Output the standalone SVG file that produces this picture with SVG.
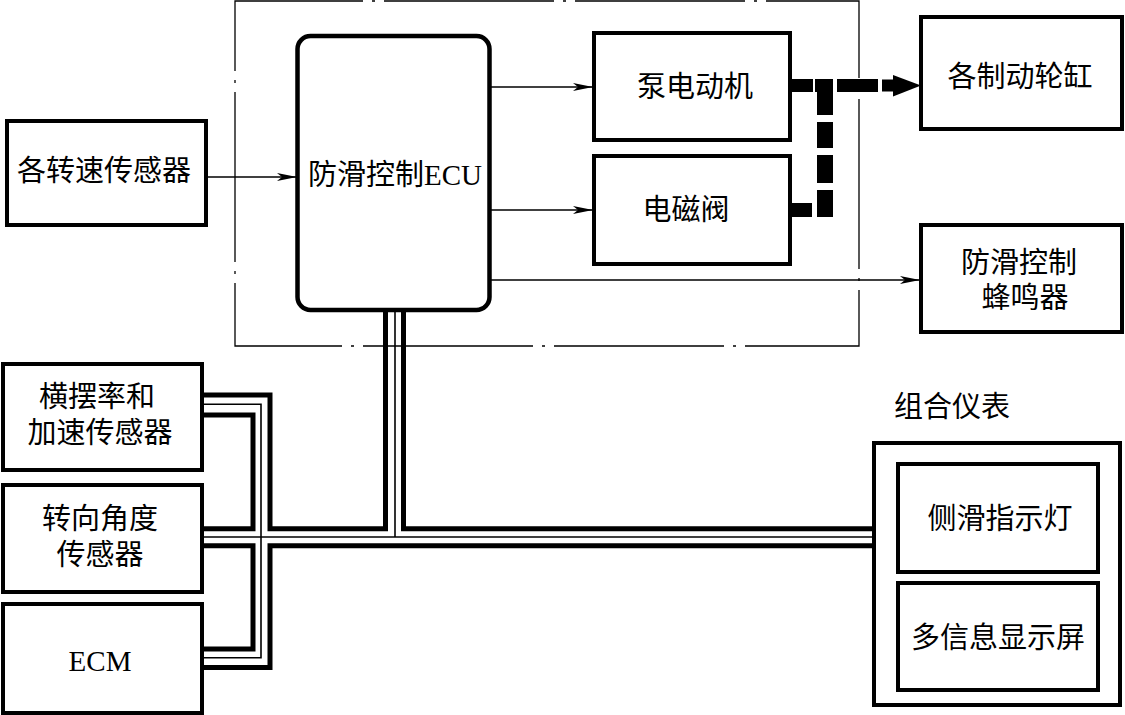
<svg xmlns="http://www.w3.org/2000/svg" width="1125" height="715" viewBox="0 0 1125 715">
<defs>
<style>
.box{fill:#fff;stroke:#000;stroke-width:4}
.t{font-family:"Liberation Serif","Noto Sans CJK SC",serif;font-size:29px;fill:#000;text-anchor:middle;dominant-baseline:central}
.thin{fill:none;stroke:#000;stroke-width:1.3}
.bus{fill:none;stroke:#000;stroke-width:5;stroke-linejoin:miter;stroke-linecap:butt}
.busthin{fill:none;stroke:#000;stroke-width:1.6}
.dd{fill:none;stroke:#000;stroke-width:1.3;stroke-dasharray:170 9 3 9}
</style>
<marker id="arr" viewBox="0 0 20 8" refX="20" refY="4" markerWidth="20" markerHeight="8" markerUnits="userSpaceOnUse" orient="auto">
<path d="M0,0 L20,4 L0,8 L5,4 Z" fill="#000"/>
</marker>
</defs>
<rect width="1125" height="715" fill="#fff"/>
<path class="dd" d="M235,1 H859 V346 H235 Z" stroke-dashoffset="42"/>
<g id="connectors">
<line class="thin" x1="206" y1="177" x2="297" y2="177" marker-end="url(#arr)"/>
<line class="thin" x1="490" y1="87" x2="593" y2="87" marker-end="url(#arr)"/>
<line class="thin" x1="490" y1="210" x2="593" y2="210" marker-end="url(#arr)"/>
<line class="thin" x1="490" y1="280" x2="920" y2="280" marker-end="url(#arr)"/>
<g fill="#000">
<rect x="791" y="79" width="22" height="13"/>
<rect x="815" y="79" width="18" height="13"/>
<rect x="837" y="79" width="41" height="13"/>
<rect x="882" y="79.5" width="12" height="12"/>
<path d="M893,75 L921,85.5 L893,96.5 Z"/>
<rect x="817" y="79" width="16" height="36"/>
<rect x="817" y="122" width="16" height="26"/>
<rect x="817" y="155" width="16" height="28"/>
<rect x="817" y="190" width="16" height="27"/>
<rect x="791" y="203" width="21" height="14"/>
</g>
<polyline class="bus" points="202,395 270,395 270,528.7 385.5,528.7 385.5,309"/>
<polyline class="bus" points="403.5,309 403.5,528.7 873,528.7"/>
<polyline class="busthin" points="395,309 395,537"/>
<polyline class="busthin" points="202,404.3 261,404.3 261,657.7 202,657.7"/>
<polyline class="busthin" points="202,537 873,537"/>
<polyline class="bus" points="202,415 253,415 253,528.7 202,528.7"/>
<polyline class="bus" points="202,545.8 253,545.8 253,649 202,649"/>
<polyline class="bus" points="202,667.5 270,667.5 270,545.8 873,545.8"/>
</g>
<g id="speed-sensors"><rect class="box" x="7" y="121" width="199" height="104"/><text class="t" x="104" y="171">各转速传感器</text></g>
<g id="ecu"><rect x="297.5" y="36" width="192" height="274" rx="13" ry="13" fill="#fff" stroke="#000" stroke-width="4.5"/><text class="t" x="395" y="175">防滑控制ECU</text></g>
<g id="pump-motor"><rect class="box" x="594" y="33" width="196" height="107"/><text class="t" x="695" y="87">泵电动机</text></g>
<g id="solenoid"><rect class="box" x="594" y="156" width="196" height="108"/><text class="t" x="686" y="210">电磁阀</text></g>
<g id="wheel-cylinders"><rect class="box" x="921" y="17" width="201" height="112"/><text class="t" x="1020" y="77">各制动轮缸</text></g>
<g id="buzzer"><rect class="box" x="921" y="225" width="201" height="107"/><text class="t" x="1019" y="263">防滑控制</text><text class="t" x="1025" y="298">蜂鸣器</text></g>
<g id="combination-meter"><text class="t" x="952" y="407">组合仪表</text><rect class="box" x="874" y="443" width="246" height="262"/></g>
<g id="slip-indicator"><rect class="box" x="898" y="464" width="200" height="108"/><text class="t" x="1000" y="519">侧滑指示灯</text></g>
<g id="multi-info-display"><rect class="box" x="898" y="583" width="200" height="107"/><text class="t" x="998" y="638">多信息显示屏</text></g>
<g id="yaw-sensor"><rect class="box" x="3" y="364" width="199" height="106"/><text class="t" x="97" y="397">横摆率和</text><text class="t" x="100" y="433">加速传感器</text></g>
<g id="steering-sensor"><rect class="box" x="3" y="485" width="199" height="107"/><text class="t" x="100" y="519">转向角度</text><text class="t" x="100" y="555">传感器</text></g>
<g id="ecm"><rect class="box" x="3" y="604" width="199" height="109"/><text class="t" x="100" y="661">ECM</text></g>
</svg>
